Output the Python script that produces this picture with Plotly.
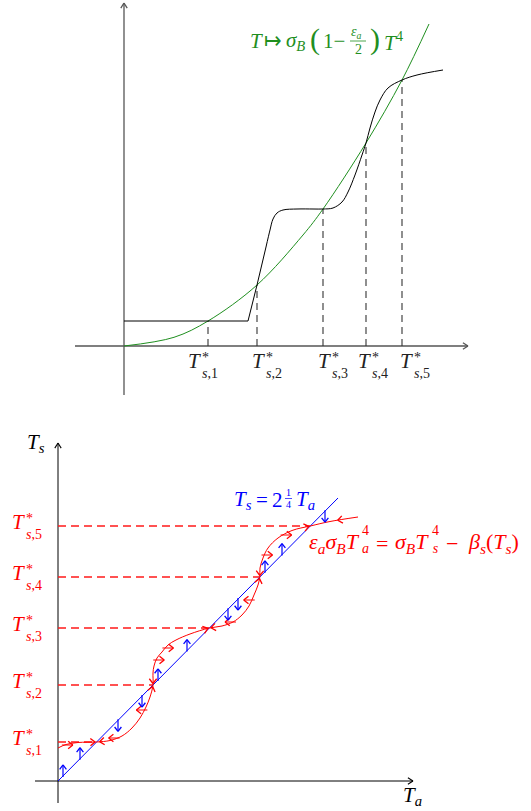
import math
import numpy as np
import plotly.graph_objects as go

# ---------------- data : top panel (flux versus temperature) ----------------
top_green_T = [0.0, 0.50, 0.84, 1.33, 1.79, 1.99, 2.42, 2.78, 3.05]
top_green_F = [0.0, 0.087, 0.25, 0.61, 1.11, 1.37, 2.03, 2.66, 3.22]
top_black_T = [0.0, 1.24, 1.33, 1.42, 1.46, 1.49, 1.53, 1.59, 1.73, 1.89, 1.99,
               2.09, 2.18, 2.24, 2.31, 2.38, 2.42, 2.46, 2.51, 2.56, 2.64, 2.78, 2.93, 3.19]
top_black_F = [0.25, 0.25, 0.61, 0.99, 1.16, 1.27, 1.33, 1.36, 1.37, 1.37, 1.37,
               1.38, 1.44, 1.54, 1.71, 1.91, 2.03, 2.18, 2.34, 2.46, 2.58, 2.66, 2.71, 2.76]
top_star_T = [0.84, 1.33, 1.99, 2.42, 2.78]
top_star_F = [0.25, 0.61, 1.37, 2.03, 2.66]
star_labels = ["1", "2", "3", "4", "5"]

# ---------------- data : bottom panel (Ts versus Ta) ----------------
blue_Ta = [0.0, 2.80]
blue_Ts = [0.0, 2.83]
red_Ta = [0.00, 0.08, 0.20, 0.386, 0.52, 0.64, 0.74, 0.82, 0.88, 0.92, 0.95,
          0.95, 0.96, 0.99, 1.04, 1.10, 1.18, 1.32, 1.514, 1.64, 1.75, 1.84, 1.91,
          1.96, 2.00, 2.018, 2.02, 2.05, 2.10, 2.20, 2.34, 2.523, 2.72, 3.00]
red_Ts = [0.33, 0.365, 0.385, 0.39, 0.405, 0.45, 0.53, 0.63, 0.74, 0.84, 0.96,
          1.08, 1.15, 1.23, 1.29, 1.36, 1.41, 1.47, 1.53, 1.55, 1.59, 1.66, 1.75,
          1.86, 1.96, 2.04, 2.13, 2.23, 2.33, 2.43, 2.505, 2.55, 2.595, 2.64]
star_Ta = [0.386, 0.95, 1.514, 2.018, 2.523]
star_Ts = [0.39, 0.96, 1.53, 2.04, 2.55]
# horizontal (Ta) tendency arrows on the red curve
red_arrow_Ts = [0.36, 0.43, 0.71, 1.21, 1.33, 1.59, 1.81, 2.26, 2.46]
red_arrow_dir = [1, -1, -1, 1, 1, -1, -1, 1, 1]
# vertical (Ts) tendency arrows on the blue line
blue_arrow_Ta = [0.05, 0.22, 0.60, 0.84, 1.00, 1.29, 1.70, 1.80, 2.07, 2.24, 2.67]
blue_arrow_dir = [1, 1, -1, -1, 1, 1, -1, -1, 1, 1, -1]

# ---------------- layout geometry ----------------
W, H = 531, 811
U = 100.0            # pixels per data unit (same in x and y)
TOX, TOY = 124, 346  # top origin (px)
BOX, BOY = 58, 781   # bottom origin (px)
SPLIT = 405

SERIF = "Liberation Serif"
RED = "#ff0000"
BLUE = "#0000ff"
GREEN = "#1f8f1f"
AXG = "#555555"
MS, SS = 21, 14      # main / script font sizes

fig = go.Figure()


def line(x, y, color, width=1.0, dash=None, xa="x", ya="y", shape="linear"):
    fig.add_trace(go.Scatter(x=x, y=y, mode="lines", xaxis=xa, yaxis=ya,
                             line=dict(color=color, width=width, dash=dash, shape=shape),
                             hoverinfo="skip", showlegend=False))


class Heads:
    """open (barbed) arrowheads and optional shafts, drawn as line segments"""

    def __init__(self, color, xa, ya, length=5.5, half_angle=38):
        self.c, self.xa, self.ya = color, xa, ya
        self.L, self.th = length / U, math.radians(half_angle)
        self.hx, self.hy, self.sx, self.sy = [], [], [], []

    def add(self, tail, tip, shaft=False):
        dx, dy = tip[0] - tail[0], tip[1] - tail[1]
        n = math.hypot(dx, dy)
        ux, uy = dx / n, dy / n
        for sgn in (1, -1):
            c, s = math.cos(sgn * self.th), math.sin(sgn * self.th)
            bx, by = ux * c - uy * s, ux * s + uy * c
            self.hx += [tip[0] - self.L * bx, tip[0], None]
            self.hy += [tip[1] - self.L * by, tip[1], None]
        if shaft:
            self.sx += [tail[0], tip[0], None]
            self.sy += [tail[1], tip[1], None]

    def draw(self, width=1.0, head_width=1.2):
        if self.sx:
            line(self.sx, self.sy, self.c, width, xa=self.xa, ya=self.ya)
        line(self.hx, self.hy, self.c, head_width, xa=self.xa, ya=self.ya)


def label(x, y, xa, ya, text, size, color, xs=0, ys=0):
    fig.add_annotation(x=x, y=y, xref=xa, yref=ya, text=text, showarrow=False,
                       xanchor="left", yanchor="middle", xshift=xs, yshift=ys,
                       font=dict(family=SERIF, size=size, color=color))


def txt(px, py, text, size=MS, color="black"):
    """text piece anchored on the panel origin, offset in pixels"""
    if py < SPLIT:
        label(0, 0, "x", "y", text, size, color, px - 1 - TOX, TOY - py)
    else:
        label(0, 0, "x2", "y2", text, size, color, px - 1 - BOX, BOY - py)


def tstar(x, y, xa, ya, xs, ys, k, color):
    label(x, y, xa, ya, "<i>T</i>", MS, color, xs, ys)
    label(x, y, xa, ya, "*", SS, color, xs + 14, ys + 4)
    label(x, y, xa, ya, "<i>s</i>," + k, SS, color, xs + 14, ys - 12)


# ================= TOP PANEL =================
x_end, y_end = (468 - TOX) / U, (TOY - 3) / U
line([-(TOX - 75) / U, x_end], [0, 0], AXG, 1.3)
line([0, 0], [-(395 - TOY) / U, y_end], AXG, 1.3)
for t, f in zip(top_star_T, top_star_F):
    line([t, t], [0, f], "#333333", 1.1, dash="7px,5px")
line(top_green_T, top_green_F, GREEN, 1.0, shape="spline")
line(top_black_T[:4], top_black_F[:4], "black", 1.0)
line(top_black_T[3:], top_black_F[3:], "black", 1.0, shape="spline")
top_ax = Heads(AXG, "x", "y", 6, 32)
top_ax.add((x_end - 0.1, 0), (x_end, 0))
top_ax.add((0, y_end - 0.1), (0, y_end))
top_ax.draw(head_width=1.3)

top_label_dx = [-22, -7, -7, -10, -4]
for t, k, dx in zip(top_star_T, star_labels, top_label_dx):
    tstar(t, 0, "x", "y", dx, -15, k, "#222222")

# green formula  T -> sigma_B (1 - eps_a/2) T^4
txt(249, 41, "<i>T</i>", MS, GREEN)
txt(263, 41, "↦", MS, GREEN)
txt(285, 41, "<i>σ</i><sub><i>B</i></sub>", MS, GREEN)
txt(309, 39, "(", 30, GREEN)
txt(322, 41, "1−", MS, GREEN)
txt(350, 32, "<i>ε</i><sub><i>a</i></sub>", SS, GREEN)
txt(354, 49, "2", SS, GREEN)
txt(369, 39, ")", 30, GREEN)
txt(383, 41, "<i>T</i><sup>4</sup>", MS, GREEN)
fig.add_shape(type="line", xref="x", yref="y",
              x0=(350 - TOX) / U, x1=(366 - TOX) / U, y0=(TOY - 41) / U, y1=(TOY - 41) / U,
              line=dict(color=GREEN, width=0.8))

# ================= BOTTOM PANEL =================
XA, YA = "x2", "y2"
bx_end, by_end = (413 - BOX) / U, (BOY - 443) / U
line([-(BOX - 35) / U, bx_end], [0, 0], "black", 1.0, xa=XA, ya=YA)
line([0, 0], [-(803 - BOY) / U, by_end], "black", 1.0, xa=XA, ya=YA)
bot_ax = Heads("black", XA, YA, 6, 32)
bot_ax.add((bx_end - 0.1, 0), (bx_end, 0))
bot_ax.add((0, by_end - 0.1), (0, by_end))
bot_ax.draw(head_width=1.1)

for a, s in zip(star_Ta, star_Ts):
    line([0, a], [s, s], "#ff1a1a", 1.3, dash="8px,5px", xa=XA, ya=YA)

line(blue_Ta, blue_Ts, BLUE, 1.0, xa=XA, ya=YA)
line(red_Ta, red_Ts, RED, 1.0, xa=XA, ya=YA, shape="spline")

# arc-length parametrisation of the red polyline (for arrowheads along it)
rx, ry = np.asarray(red_Ta), np.asarray(red_Ts)
arc = np.concatenate([[0.0], np.cumsum(np.hypot(np.diff(rx), np.diff(ry)))])


def on_red(sv):
    return float(np.interp(sv, arc, rx)), float(np.interp(sv, arc, ry))


red_heads = Heads(RED, XA, YA, 6, 38)
before = [(0.06, 0.015)] * 5
after = [(0.08, 0.03), (0.06, 0.015), (0.06, 0.015), (0.06, 0.015), (0.33, 0.28)]
for a, s, b, c in zip(star_Ta, star_Ts, before, after):
    i = int(np.argmin(np.hypot(rx - a, ry - s)))
    s0 = arc[i]
    red_heads.add(on_red(s0 - b[0]), on_red(s0 - b[1]))
    red_heads.add(on_red(s0 + c[0]), on_red(s0 + c[1]))

for s, d in zip(red_arrow_Ts, red_arrow_dir):
    x0 = float(np.interp(s, red_Ts, red_Ta))
    red_heads.add((x0 - 0.03 * d, s), (x0 + 0.08 * d, s), shaft=True)
red_heads.draw(1.0, 1.3)

slope = (blue_Ts[1] - blue_Ts[0]) / (blue_Ta[1] - blue_Ta[0])
blue_heads = Heads(BLUE, XA, YA, 5.5, 38)
for a, d in zip(blue_arrow_Ta, blue_arrow_dir):
    y0 = slope * a
    blue_heads.add((a, y0 - 0.01 * d), (a, y0 + 0.11 * d), shaft=True)
blue_heads.draw(1.2, 1.3)

for s, k in zip(star_Ts, star_labels):
    tstar(0, s, XA, YA, -48, 4, k, RED)

# axis names
txt(26, 443, "<i>T</i><sub><i>s</i></sub>", MS)
txt(402, 796, "<i>T</i><sub><i>a</i></sub>", MS)

# blue formula  T_s = 2^(1/4) T_a
txt(233, 500, "<i>T</i><sub><i>s</i></sub>", MS, BLUE)
txt(255, 500, "=", MS, BLUE)
txt(271, 500, "2", MS, BLUE)
txt(285, 492.5, "1", 10, BLUE)
txt(285, 504, "4", 10, BLUE)
txt(295, 500, "<i>T</i><sub><i>a</i></sub>", MS, BLUE)
fig.add_shape(type="line", xref="x2", yref="y2",
              x0=(285 - BOX) / U, x1=(292 - BOX) / U,
              y0=(BOY - 498.5) / U, y1=(BOY - 498.5) / U,
              line=dict(color=BLUE, width=0.7))

# red formula  eps_a sigma_B Ta^4 = sigma_B Ts^4 - beta_s(Ts)
RS = 22
red_pieces = [
    (308, 543, "<i>ε</i><sub><i>a</i></sub><i>σ</i><sub><i>B</i></sub><i>T</i>", RS),
    (361, 539.5, "4<br><i>a</i>", SS),
    (375, 543, "=", RS),
    (394, 543, "<i>σ</i><sub><i>B</i></sub><i>T</i>", RS),
    (431, 539.5, "4<br><i>s</i>", SS),
    (445, 543, "−", RS),
    (467, 543, "<i>β</i><sub><i>s</i></sub>(<i>T</i><sub><i>s</i></sub>)", RS),
]
for px, py, t, sz in red_pieces:
    txt(px, py, t, sz, RED)

# ---------------- axes / layout ----------------
ytop0 = 1 - SPLIT / H
fig.update_layout(
    width=W, height=H, autosize=False,
    margin=dict(l=0, r=0, t=0, b=0, pad=0),
    paper_bgcolor="white", plot_bgcolor="white",
    showlegend=False,
    xaxis=dict(domain=[0, 1], range=[-TOX / U, (W - TOX) / U], visible=False,
               anchor="y", fixedrange=True),
    yaxis=dict(domain=[ytop0, 1], range=[(TOY - SPLIT) / U, TOY / U], visible=False,
               anchor="x", fixedrange=True),
    xaxis2=dict(domain=[0, 1], range=[-BOX / U, (W - BOX) / U], visible=False,
                anchor="y2", fixedrange=True),
    yaxis2=dict(domain=[0, ytop0], range=[(BOY - H) / U, (BOY - SPLIT) / U],
                visible=False, anchor="x2", fixedrange=True),
)

fig.write_html("out.html", config={"displayModeBar": False},
               post_script="document.body.style.margin='0';document.body.style.overflow='hidden';")
